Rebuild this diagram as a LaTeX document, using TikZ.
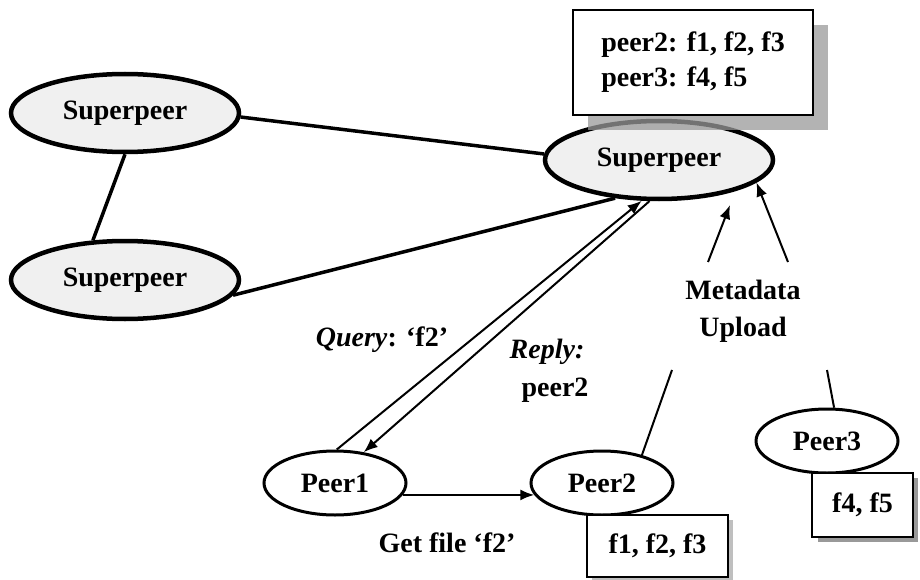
\documentclass[tikz,border=0pt]{standalone}
\usepackage{fontspec}
\setmainfont{Liberation Serif}
\usetikzlibrary{shapes.geometric,arrows.meta}
\tikzset{
  every node/.style={font=\fontsize{28}{35}\selectfont\bfseries},
  superpeer/.style={ellipse,draw,line width=4.5pt,fill=gray!12,minimum width=228pt,minimum height=78pt,inner sep=0pt},
  peer/.style={ellipse,draw,line width=3pt,fill=white,minimum width=142pt,minimum height=64pt,inner sep=0pt},
  link/.style={line width=3.5pt},
  msg/.style={line width=2pt,-{Latex[length=14pt,width=11pt]}},
  thin/.style={line width=2pt},
  filebox/.style={draw,line width=2.8pt,fill=white,inner sep=0pt},
  shadowfill/.style={fill=black!40,fill opacity=0.75,draw=none},
  lbl/.style={inner sep=0pt}
}
\begin{document}
\begin{tikzpicture}[x=1pt,y=-1pt]
\useasboundingbox (0,0) rectangle (920,580);

% superpeers
\node[superpeer] (spA) at (125,113) {Superpeer};
\node[superpeer] (spB) at (125,280) {Superpeer};
\node[superpeer] (spC) at (659,160) {Superpeer};

% links between superpeers
\draw[link] (spA.-90) -- (spB.129);
\draw[link] (spA.-2) -- (spC.177);
\draw[link] (spB.-8) -- (spC.221);

% metadata box with shadow
\fill[shadowfill] (588,25) rectangle (828,130);
\node[filebox,minimum width=240pt,minimum height=105pt,align=left] (meta) at (693,62.5)
  {peer2: f1, f2, f3\\peer3: f4, f5};

% peers
\node[peer] (p1) at (335,483) {Peer1};
\node[peer] (p2) at (602,483) {Peer2};
\node[peer] (p3) at (827,441) {Peer3};

% file boxes
\fill[black!25] (592,520) rectangle (733,580);
\node[filebox,minimum width=141pt,minimum height=62pt] (b2) at (657.5,546) {f1, f2, f3};
\fill[black!40] (818,478) rectangle (918,542);
\node[filebox,minimum width=101pt,minimum height=64pt] (b3) at (862.5,505) {f4, f5};

% query / reply
\draw[msg] (p1.87) -- (spC.247);
\draw[msg] (spC.257) -- (p1.47);
\node[lbl] (q) at (382,340) {\textit{Query}: ‘f2’};
\node[lbl] (r1) at (547,352) {\textit{Reply:}};
\node[lbl] (r2) at (555,390) {peer2};

% get file
\draw[msg] (p1.-10) -- (p2.190);
\node[lbl] (g) at (447,543) {Get file ‘f2’};

% metadata upload
\node[lbl,align=center,font=\fontsize{28}{37}\selectfont\bfseries] (mu) at (743,311) {Metadata\\Upload};
\coordinate (m1s) at (708,262);
\coordinate (m1e) at (730,205);
\coordinate (m2s) at (788,262);
\coordinate (m3s) at (672,370);
\coordinate (m4s) at (827,370);
\draw[msg] (m1s) -- (m1e);
\draw[msg] (m2s) -- (spC.-13);
\draw[thin] (m3s) -- (p2.35);
\draw[thin] (m4s) -- (p3.78);
\end{tikzpicture}
\end{document}
